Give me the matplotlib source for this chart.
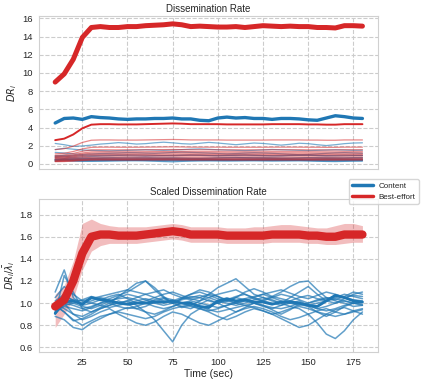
import numpy as np
import matplotlib
matplotlib.use("Agg")
import matplotlib.pyplot as plt
import seaborn as sns
from matplotlib.lines import Line2D

# ---------------- data ----------------
time = [10, 15, 20, 25, 30, 35, 40, 45, 50, 55, 60, 65, 70, 75, 80, 85, 90,
        95, 100, 105, 110, 115, 120, 125, 130, 135, 140, 145, 150, 155, 160,
        165, 170, 175, 180]

# aggregate dissemination rates (top panel, thick lines)
be_total = [9.0, 9.9, 11.5, 13.9, 15.0, 15.1, 15.0, 15.0, 15.1, 15.1, 15.2,
            15.25, 15.3, 15.4, 15.3, 15.1, 15.15, 15.1, 15.05, 15.05, 15.1,
            15.0, 15.1, 15.2, 15.15, 15.1, 15.15, 15.1, 15.1, 15.0, 15.0,
            14.95, 15.2, 15.2, 15.15]
content_total = [4.5, 5.0, 5.05, 4.9, 5.2, 5.1, 5.05, 4.95, 4.9, 4.95, 4.95,
                 5.0, 5.0, 5.05, 4.95, 4.95, 4.8, 4.75, 5.05, 5.15, 5.05,
                 5.1, 5.0, 5.0, 4.9, 5.0, 5.0, 4.95, 4.85, 4.8, 5.05, 5.3,
                 5.2, 5.05, 5.0]
be_rate_total = 9.2
content_rate_total = 4.95

# scaled best-effort profile (bottom panel) with spread envelope
be_scaled = [0.97, 1.03, 1.2, 1.45, 1.6, 1.62, 1.62, 1.61, 1.61, 1.61, 1.62,
             1.63, 1.64, 1.65, 1.64, 1.62, 1.62, 1.62, 1.62, 1.61, 1.61, 1.61,
             1.61, 1.61, 1.62, 1.62, 1.62, 1.62, 1.61, 1.61, 1.6, 1.6, 1.62,
             1.62, 1.62]
be_scaled_hi = [1.08, 1.16, 1.38, 1.72, 1.76, 1.72, 1.7, 1.69, 1.69, 1.69,
                1.69, 1.7, 1.71, 1.72, 1.71, 1.69, 1.69, 1.69, 1.69, 1.68,
                1.68, 1.68, 1.69, 1.69, 1.7, 1.71, 1.71, 1.7, 1.69, 1.68,
                1.68, 1.7, 1.72, 1.72, 1.7]
be_scaled_lo = [0.78, 0.9, 1.04, 1.3, 1.47, 1.52, 1.54, 1.54, 1.54, 1.54,
                1.55, 1.56, 1.57, 1.58, 1.57, 1.55, 1.55, 1.55, 1.55, 1.54,
                1.54, 1.54, 1.54, 1.54, 1.55, 1.55, 1.55, 1.55, 1.54, 1.54,
                1.53, 1.53, 1.54, 1.55, 1.55]

# per-flow best-effort rates (lambda_i)
be_rates_main = 2.7
be_rates = [1.63, 1.14, 0.96, 0.83, 0.74, 0.65, 0.56, 0.46, 0.37, 0.31, 0.26]

# per-flow content scaled rates (bottom panel)
c1 = [0.95, 1.05, 1.03, 1.02, 1.04, 1.06, 1.08, 1.10, 1.12, 1.10, 1.08, 1.05, 1.02, 1.00, 1.04, 1.06, 1.05, 1.02, 1.00, 1.03, 1.06, 1.08, 1.05, 1.02, 1.00, 0.98, 1.02, 1.05, 1.07, 1.04, 1.02, 1.05, 1.08, 1.06, 1.04]
c2 = [0.90, 1.00, 0.98, 0.95, 0.97, 1.00, 1.02, 1.04, 1.05, 1.03, 1.00, 0.97, 0.95, 0.97, 1.00, 1.02, 1.00, 0.98, 0.96, 0.98, 1.00, 1.02, 1.00, 0.98, 0.96, 0.95, 0.97, 1.00, 0.98, 0.95, 0.93, 0.95, 0.98, 1.00, 0.99]
c3 = [0.98, 0.92, 0.84, 0.86, 0.90, 0.95, 0.98, 1.02, 0.99, 0.95, 0.97, 1.01, 1.04, 1.01, 0.97, 0.95, 0.99, 1.03, 1.00, 0.96, 0.92, 0.96, 1.00, 0.98, 0.94, 0.90, 0.94, 0.99, 0.97, 0.92, 0.88, 0.92, 0.97, 1.00, 1.01]
c4 = [1.10, 1.30, 1.05, 0.98, 1.00, 1.03, 1.06, 1.08, 1.04, 1.00, 1.02, 1.05, 1.08, 1.10, 1.07, 1.04, 1.02, 1.05, 1.08, 1.10, 1.12, 1.08, 1.04, 1.02, 1.05, 1.08, 1.06, 1.03, 1.00, 1.02, 1.04, 1.06, 1.05, 1.03, 1.02]
c5 = [1.00, 0.95, 0.90, 0.88, 0.92, 0.95, 0.98, 1.00, 1.02, 0.98, 0.92, 0.85, 0.75, 0.65, 0.80, 0.90, 0.95, 0.98, 1.00, 1.02, 1.05, 1.03, 1.00, 0.97, 0.95, 0.98, 1.00, 1.02, 0.98, 0.95, 0.97, 1.00, 1.02, 1.00, 0.98]
c6 = [0.95, 1.02, 1.00, 0.97, 0.95, 0.98, 1.02, 1.05, 1.08, 1.06, 1.03, 1.00, 0.98, 1.00, 1.03, 1.05, 1.07, 1.05, 1.02, 1.00, 0.98, 1.00, 1.03, 1.05, 1.03, 1.00, 0.97, 0.95, 0.90, 0.82, 0.72, 0.68, 0.75, 0.85, 0.92]
c7 = [0.92, 0.97, 0.95, 0.93, 0.96, 1.00, 1.04, 1.07, 1.10, 1.15, 1.20, 1.12, 1.05, 1.00, 0.96, 0.98, 1.02, 1.08, 1.14, 1.18, 1.22, 1.15, 1.08, 1.05, 1.02, 1.00, 1.05, 1.10, 1.15, 1.08, 1.02, 1.00, 1.04, 1.08, 1.10]
c8 = [0.98, 0.92, 0.85, 0.80, 0.84, 0.88, 0.90, 0.93, 0.96, 0.95, 0.92, 0.90, 0.93, 0.97, 1.00, 0.98, 0.95, 0.92, 0.88, 0.85, 0.88, 0.92, 0.95, 0.93, 0.90, 0.86, 0.82, 0.78, 0.80, 0.85, 0.90, 0.94, 0.96, 0.93, 0.90]
c9 = [1.02, 1.08, 1.02, 1.00, 1.02, 1.05, 1.03, 1.00, 1.02, 1.05, 1.08, 1.10, 1.12, 1.08, 1.05, 1.03, 1.05, 1.08, 1.06, 1.03, 1.00, 1.02, 1.05, 1.08, 1.10, 1.12, 1.09, 1.06, 1.04, 1.07, 1.10, 1.08, 1.05, 1.07, 1.06]
c10 = [0.88, 0.85, 0.78, 0.76, 0.82, 0.86, 0.90, 0.92, 0.90, 0.88, 0.86, 0.88, 0.92, 0.95, 0.97, 0.99, 0.97, 0.94, 0.92, 0.94, 0.96, 0.98, 0.96, 0.93, 0.90, 0.92, 0.95, 0.97, 0.95, 0.92, 0.90, 0.88, 0.90, 0.92, 0.94]
c11 = [0.96, 1.00, 0.90, 0.85, 0.88, 0.92, 0.95, 0.90, 0.86, 0.82, 0.80, 0.83, 0.88, 0.92, 0.90, 0.86, 0.82, 0.80, 0.84, 0.88, 0.92, 0.95, 0.97, 0.95, 0.92, 0.88, 0.85, 0.87, 0.90, 0.93, 0.95, 0.92, 0.90, 0.93, 0.95]
c12 = [1.05, 1.15, 1.08, 1.02, 1.00, 0.98, 0.96, 0.98, 1.00, 1.02, 1.04, 1.02, 1.00, 1.02, 1.05, 1.08, 1.10, 1.07, 1.04, 1.02, 1.00, 0.98, 1.00, 1.03, 1.06, 1.04, 1.02, 1.00, 0.98, 1.00, 1.02, 1.04, 1.02, 1.00, 1.01]
c13 = [0.93, 0.98, 1.00, 1.03, 1.06, 1.04, 1.00, 0.97, 0.95, 0.97, 1.00, 1.03, 1.05, 1.03, 1.00, 0.97, 0.95, 0.93, 0.95, 0.98, 1.01, 1.04, 1.06, 1.08, 1.05, 1.02, 1.00, 0.98, 1.00, 1.03, 1.05, 1.02, 1.00, 0.97, 0.98]
c14 = [0.90, 1.25, 1.10, 0.95, 0.92, 0.96, 1.00, 1.06, 1.12, 1.18, 1.20, 1.14, 1.06, 1.00, 1.04, 1.08, 1.12, 1.10, 1.06, 1.02, 1.05, 1.10, 1.13, 1.10, 1.06, 1.10, 1.15, 1.19, 1.20, 1.12, 1.05, 1.03, 1.06, 1.10, 1.08]
content_scaled = [c1, c2, c3, c4, c5, c6, c7, c8, c9, c10, c11, c12, c13, c14]
# per-flow content rates (lambda_i)
content_rates = [0.9, 0.5, 2.3, 0.4, 0.35, 0.38, 0.6, 1.3, 0.45, 1.0, 0.75, 1.5, 0.55, 0.33]

# ---------------- plot ----------------
sns.set_style("whitegrid", {"grid.linestyle": "--", "axes.edgecolor": "#d0d0d0"})
plt.rcParams["font.family"] = ["Liberation Sans", "DejaVu Sans"]
plt.rcParams["mathtext.fontset"] = "dejavusans"

BLUE = "#1f77b4"
RED = "#d62728"
TXT = "#262626"

fig = plt.figure(figsize=(4.23, 3.84), dpi=100)
ax1 = fig.add_axes([0.092, 0.56, 0.802, 0.398])
ax2 = fig.add_axes([0.092, 0.083, 0.802, 0.399], sharex=ax1)

t = np.array(time)
be_prof = np.array(be_scaled)

# top panel: per-flow lines
for lam, prof in zip(content_rates, content_scaled):
    ax1.plot(t, lam * np.array(prof), color=BLUE, lw=0.9, alpha=0.6)
for lam in be_rates:
    ax1.plot(t, lam * be_prof, color=RED, lw=0.9, alpha=0.55)
ax1.plot(t, be_rates_main * be_prof, color=RED, lw=1.4)
ax1.plot(t, content_total, color=BLUE, lw=2.4)
ax1.plot(t, be_total, color=RED, lw=3.6)

ax1.set_title("Dissemination Rate", fontsize=7, pad=3, color=TXT)
ax1.set_ylabel("$DR_i$", fontsize=7, labelpad=2, color=TXT)
ax1.set_yticks([0, 2, 4, 6, 8, 10, 12, 14, 16])
ax1.tick_params(axis="both", labelsize=6.8, pad=1, labelcolor=TXT)
plt.setp(ax1.get_xticklabels(), visible=False)

# bottom panel
for prof in content_scaled:
    ax2.plot(t, prof, color=BLUE, lw=1.1, alpha=0.7)
ax2.plot(t, np.array(content_total) / content_rate_total, color=BLUE, lw=2.0)
ax2.fill_between(t, be_scaled_lo, be_scaled_hi, color=RED, alpha=0.3, lw=0)
ax2.plot(t, be_scaled, color=RED, lw=6.0)

ax2.set_title("Scaled Dissemination Rate", fontsize=7, pad=3, color=TXT)
ax2.set_ylabel(r"$DR_i/\bar{\lambda}_i$", fontsize=7, labelpad=2, color=TXT)
ax2.set_xlabel("Time (sec)", fontsize=7.5, labelpad=1, color=TXT)
ax2.set_xticks([25, 50, 75, 100, 125, 150, 175])
ax2.set_yticks([0.6, 0.8, 1.0, 1.2, 1.4, 1.6, 1.8])
ax2.set_ylim(0.557, 1.942)
ax2.set_xlim(1.0, 188.7)
ax1.set_ylim(-0.55, 16.25)
ax2.tick_params(axis="both", labelsize=6.8, pad=1, labelcolor=TXT)

handles = [Line2D([0], [0], color=BLUE, lw=2.5), Line2D([0], [0], color=RED, lw=2.5)]
fig.legend(handles, ["Content", "Best-effort"], loc="upper right",
           bbox_to_anchor=(0.99, 0.534), borderaxespad=0.0, fontsize=5.8,
           frameon=True, handlelength=2.6, handletextpad=0.7,
           borderpad=0.4, labelspacing=0.4)

fig.savefig("out.png", dpi=100)
